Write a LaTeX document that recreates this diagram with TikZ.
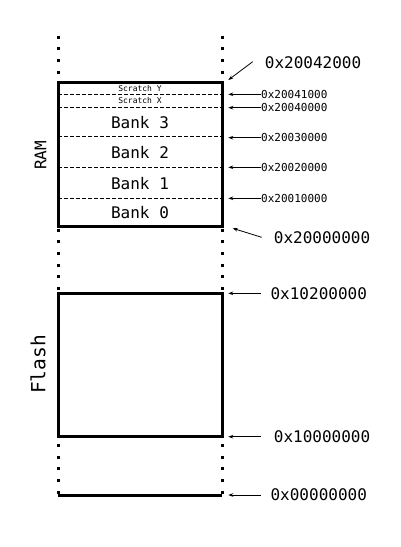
\documentclass[tikz,border=0pt]{standalone}
\usepackage{fontspec}
\setmonofont{DejaVu Sans Mono}
\usetikzlibrary{arrows.meta}
\tikzset{
  box/.style={line width=3pt, line join=miter},
  dots/.style={line width=3pt, dash pattern=on 3pt off 8.7pt},
  divider/.style={line width=0.8pt, dash pattern=on 3.5pt off 2.5pt},
  arr/.style={line width=0.8pt, -{Stealth[length=5pt,width=3.6pt]}},
  biglbl/.style={inner sep=0pt, anchor=west, font=\ttfamily\fontsize{16}{19}\selectfont},
  smalllbl/.style={inner sep=0pt, anchor=west, font=\ttfamily\fontsize{11}{13}\selectfont},
  banklbl/.style={inner sep=0pt, font=\ttfamily\fontsize{16}{19}\selectfont},
  scratchlbl/.style={inner sep=0pt, font=\ttfamily\fontsize{8}{10}\selectfont},
}
\begin{document}
\begin{tikzpicture}[x=1pt,y=-1pt]
\useasboundingbox (0,0) rectangle (401,547);

% dotted continuation lines
\foreach \xx in {58,222} {
  \draw[dots] (\xx,35.5) -- (\xx,82.5);
  \draw[dots] (\xx,228.5) -- (\xx,293.3);
  \draw[dots] (\xx,444) -- (\xx,495);
}

% RAM block
\draw[box] (58,82.5) rectangle (222,226.5);
\foreach \yy in {94.3,107.3,136.7,167.3,198.7}
  \draw[divider] (58,\yy) -- (222,\yy);

\node[scratchlbl] (sy) at (140,88.6) {Scratch Y};
\node[scratchlbl] (sx) at (140,101) {Scratch X};
\node[banklbl] (b3) at (140,122.2) {Bank 3};
\node[banklbl] (b2) at (140,152.4) {Bank 2};
\node[banklbl] (b1) at (140,183.1) {Bank 1};
\node[banklbl] (b0) at (140,212.6) {Bank 0};

% Flash block
\draw[box] (58,293.3) rectangle (222,436.7);
\draw[box] (58,495) -- (222,495);

% side labels
\node[inner sep=0pt, rotate=90, font=\ttfamily\fontsize{16}{19}\selectfont] (ram) at (40.5,155.5) {RAM};
\node[inner sep=0pt, rotate=90, font=\ttfamily\fontsize{19.5}{23}\selectfont] (flash) at (38,364.5) {Flash};

% address labels
\node[biglbl] (a42) at (264.7,62.3) {0x20042000};
\node[smalllbl] (a41) at (261,94.3) {0x20041000};
\node[smalllbl] (a40) at (261,107.7) {0x20040000};
\node[smalllbl] (a30) at (261,137.7) {0x20030000};
\node[smalllbl] (a20) at (261,167.3) {0x20020000};
\node[smalllbl] (a10) at (261,198.3) {0x20010000};
\node[biglbl] (a00) at (273.7,237.3) {0x20000000};
\node[biglbl] (f20) at (270.4,293.3) {0x10200000};
\node[biglbl] (f00) at (273.7,436.7) {0x10000000};
\node[biglbl] (z00) at (270.4,495) {0x00000000};

% arrow targets and starts
\coordinate (t42s) at (252.7,61.7);
\coordinate (t42) at (228.3,80);
\coordinate (t41) at (228.3,94.3);
\coordinate (t40) at (228.3,107.7);
\coordinate (t30) at (228.3,137.7);
\coordinate (t20) at (228.3,167.3);
\coordinate (t10) at (228.3,198.3);
\coordinate (t00s) at (261.7,237.3);
\coordinate (t00) at (232.7,228.3);
\coordinate (tf20s) at (261,293.3);
\coordinate (tf20) at (228.3,293.3);
\coordinate (tf00s) at (261,436.7);
\coordinate (tf00) at (228.3,436.7);
\coordinate (tz00s) at (261,495);
\coordinate (tz00) at (228.3,495);

\draw[arr] (t42s) -- (t42);
\draw[arr] (a41.west) -- (t41);
\draw[arr] (a40.west) -- (t40);
\draw[arr] (a30.west) -- (t30);
\draw[arr] (a20.west) -- (t20);
\draw[arr] (a10.west) -- (t10);
\draw[arr] (t00s) -- (t00);
\draw[arr] (tf20s) -- (tf20);
\draw[arr] (tf00s) -- (tf00);
\draw[arr] (tz00s) -- (tz00);
\end{tikzpicture}
\end{document}
